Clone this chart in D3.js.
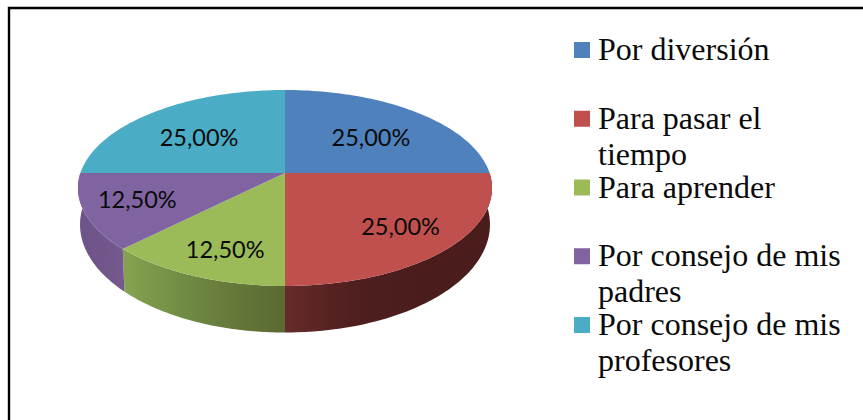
<!DOCTYPE html>
<html>
<head>
<meta charset="utf-8">
<script src="https://cdn.jsdelivr.net/npm/d3@7"></script>
<style>
  html, body { margin: 0; padding: 0; background: #fff; }
  svg { display: block; }
  .legend-text { font-family: "Liberation Serif", serif; font-size: 32px; fill: #0a0a0a; }
  .pct { font-family: Lato, sans-serif; font-size: 23.5px; fill: #0a0a0a; text-anchor: middle; }
</style>
</head>
<body>
<div id="chart"></div>
<script>
// Values
const categories = ["Por diversión", "Para pasar el tiempo", "Para aprender", "Por consejo de mis padres", "Por consejo de mis profesores"];
const legendLines = [["Por diversión"], ["Para pasar el", "tiempo"], ["Para aprender"], ["Por consejo de mis", "padres"], ["Por consejo de mis", "profesores"]];
const values = [25, 25, 12.5, 12.5, 25];
const colors = ["#4f81bd", "#c0504d", "#9bbb59", "#8064a2", "#4bacc6"];
// side wall colours, left to right on screen
const sideStops = [
  [],
  ["#672b2a", "#4e1f1e", "#4a1d1c", "#4a1d1c"],
  ["#86a350", "#728f45", "#66793a", "#596a32"],
  ["#6c5388", "#75598f"],
  []
];
const labelRadius = [0.635, 0.735, 0.69, 0.747, 0.635];
const labelDrop = [13, 8, 17, 6, 13];

const width = 863, height = 420;
const cx = 285, cy = 173;   // pie apex on screen
const rx = 204.6, ry = 95.7, persp = 0.153;   // perspective of the tilted disc
const depth = 35, bottomX = 0.99, bottomY = 1.102;

const fmtPct = v => d3.format(".2f")(v).replace(".", ",") + "%";

// angle (clockwise from 12 o'clock) and radius fraction -> screen point
function project(a, f = 1, base = false) {
  const u = Math.sin(a) * f, v = -Math.cos(a) * f;
  const w = 1 - persp * v;
  const x = rx * u / w, y = ry * v / w;
  return base
    ? [cx + x * bottomX, cy + depth + y * bottomY]
    : [cx + x, cy + y];
}

const svg = d3.select("#chart").append("svg")
  .attr("width", width)
  .attr("height", height);

const defs = svg.append("defs");

// frame: only top and left sides show in the picture
svg.append("path")
  .attr("d", `M9,${height}V8H${width}`)
  .attr("fill", "none")
  .attr("stroke", "#000")
  .attr("stroke-width", 2.4);

const slices = d3.pie().sort(null)(values);
const line = d3.line();

// side wall, front half only
const sideG = svg.append("g");
slices.forEach((s, i) => {
  const a0 = Math.max(s.startAngle, Math.PI / 2), a1 = Math.min(s.endAngle, 3 * Math.PI / 2);
  if (a1 <= a0) return;
  const angles = d3.range(0, 61).map(k => a0 + (a1 - a0) * k / 60);
  const top = angles.map(a => project(a));
  const bottom = angles.map(a => project(a, 1, true)).reverse();
  const xs = d3.extent(top.concat(bottom), p => p[0]);

  const grad = defs.append("linearGradient")
    .attr("id", `side${i}`)
    .attr("gradientUnits", "userSpaceOnUse")
    .attr("x1", xs[0]).attr("x2", xs[1])
    .attr("y1", 0).attr("y2", 0);
  grad.selectAll("stop")
    .data(sideStops[i])
    .join("stop")
    .attr("offset", (c, k) => k / (sideStops[i].length - 1))
    .attr("stop-color", c => c);

  sideG.append("path")
    .attr("d", line(top.concat(bottom)) + "Z")
    .attr("fill", `url(#side${i})`);
});

// top face
svg.append("g").selectAll("path")
  .data(slices)
  .join("path")
  .attr("d", s => {
    const pts = d3.range(0, 61).map(k => project(s.startAngle + (s.endAngle - s.startAngle) * k / 60));
    return line([[cx, cy], ...pts]) + "Z";
  })
  .attr("fill", (s, i) => colors[i]);

// percent labels
svg.append("g").selectAll("text")
  .data(slices)
  .join("text")
  .attr("class", "pct")
  .attr("x", (s, i) => project((s.startAngle + s.endAngle) / 2, labelRadius[i])[0])
  .attr("y", (s, i) => project((s.startAngle + s.endAngle) / 2, labelRadius[i])[1] + labelDrop[i])
  .text((s, i) => fmtPct(values[i]));

// legend
const legendY = d3.scalePoint().domain(categories).range([42, 317]);
const legend = svg.append("g").selectAll("g")
  .data(categories)
  .join("g")
  .attr("transform", d => `translate(574,${legendY(d)})`);

legend.append("rect")
  .attr("width", 16)
  .attr("height", 16)
  .attr("fill", (d, i) => colors[i]);

legend.each(function (d, i) {
  d3.select(this).selectAll("text")
    .data(legendLines[i])
    .join("text")
    .attr("class", "legend-text")
    .attr("x", 24)
    .attr("y", (l, j) => 18 + j * 36)
    .text(l => l);
});
</script>
</body>
</html>
